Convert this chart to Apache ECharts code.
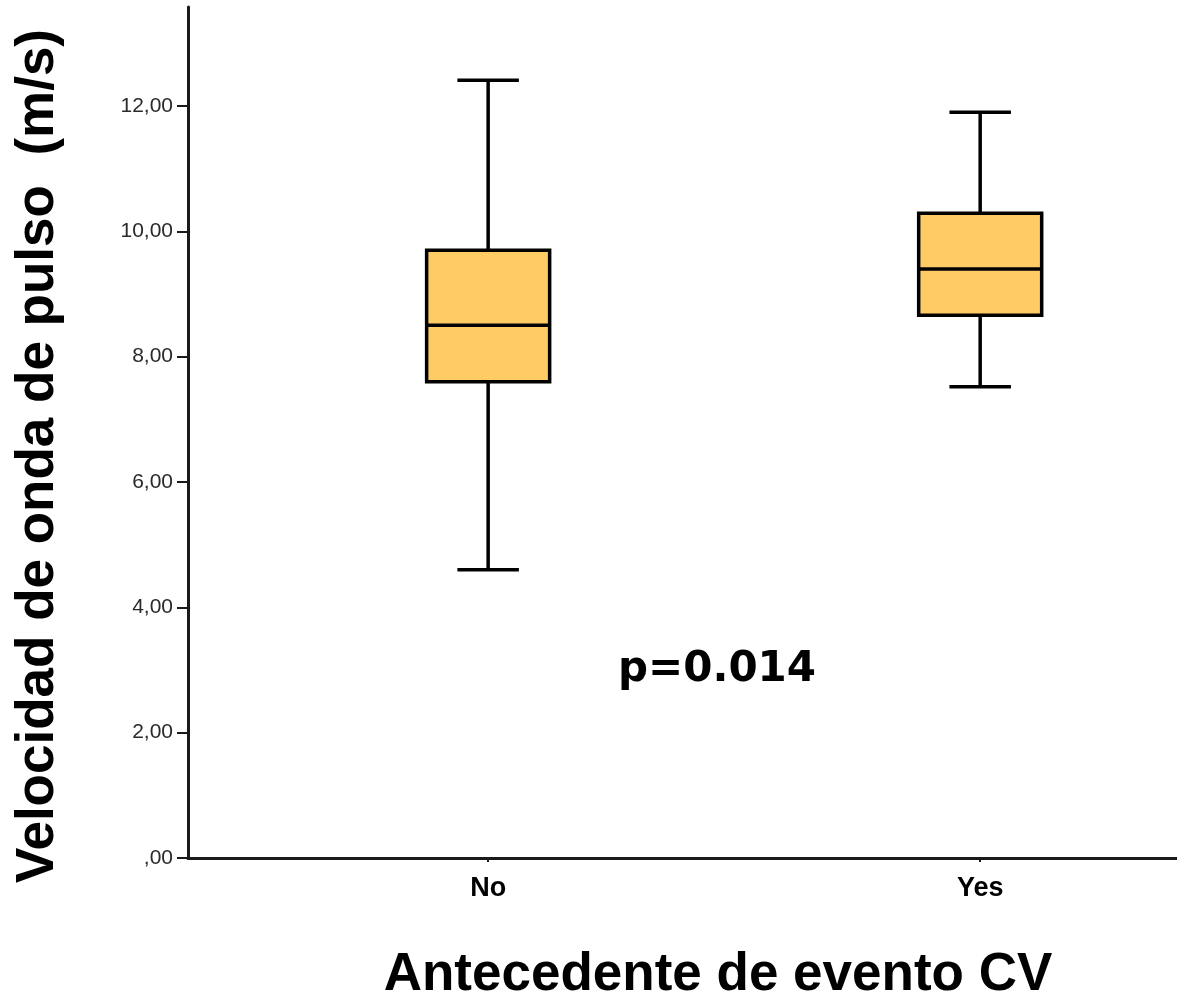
<!DOCTYPE html>
<html>
<head>
<meta charset="utf-8">
<script src="https://cdn.jsdelivr.net/npm/echarts@6/dist/echarts.min.js"></script>
<style>
html,body{margin:0;padding:0;background:#fff;}
#chart{width:1177px;height:996px;}
</style>
</head>
<body>
<div id="chart"></div>
<script>
const categories = ['No', 'Yes'];
const minVals = [4.60, 7.52];
const q1Vals = [7.60, 8.66];
const medianVals = [8.50, 9.40];
const q3Vals = [9.70, 10.29];
const maxVals = [12.41, 11.90];
const yTicks = [0, 2, 4, 6, 8, 10, 12];
const xTitle = 'Antecedente de evento CV';
const yTitle = 'Velocidad de onda de pulso  (m/s)';
const pText = 'p=0.014';

const BOX_W = 0.25;
const CAP_W = 0.125;

const seriesData = categories.map((c, i) => [i, minVals[i], q1Vals[i], medianVals[i], q3Vals[i], maxVals[i]]);

const chart = echarts.init(document.getElementById('chart'), null, {renderer: 'canvas'});

const option = {
  backgroundColor: '#ffffff',
  animation: false,
  grid: {left: 188, top: 7, right: 0, bottom: 138, containLabel: false},
  xAxis: {
    type: 'value',
    min: -0.61,
    max: 1.40,
    splitLine: {show: false},
    axisLine: {show: true, onZero: false, lineStyle: {color: '#1a1a1a', width: 3}},
    axisTick: {show: true, customValues: [0, 1], length: 4, lineStyle: {color: '#1a1a1a', width: 2}},
    axisLabel: {
      customValues: [0, 1],
      formatter: v => categories[Math.round(v)],
      fontFamily: 'Liberation Sans, Arial, sans-serif',
      fontWeight: 'bold',
      fontSize: 27,
      color: '#000',
      margin: 17
    }
  },
  yAxis: {
    type: 'value',
    min: 0,
    max: 13.58,
    splitLine: {show: false},
    axisLine: {show: true, onZero: false, lineStyle: {color: '#1a1a1a', width: 3}},
    axisTick: {show: true, customValues: yTicks, length: 11, lineStyle: {color: '#1a1a1a', width: 2}},
    axisLabel: {
      customValues: yTicks,
      formatter: v => (v === 0 ? ',00' : v.toFixed(2).replace('.', ',')),
      fontFamily: 'Liberation Sans, Arial, sans-serif',
      fontSize: 21,
      color: '#2a2a2a',
      margin: 15
    }
  },
  series: [{
    type: 'custom',
    data: seriesData,
    encode: {x: 0, y: [1, 2, 3, 4, 5]},
    renderItem: function (params, api) {
      const x = api.value(0);
      const pMin = api.coord([x, api.value(1)]);
      const pQ1 = api.coord([x, api.value(2)]);
      const pMed = api.coord([x, api.value(3)]);
      const pQ3 = api.coord([x, api.value(4)]);
      const pMax = api.coord([x, api.value(5)]);
      const bw = api.size([BOX_W, 0])[0];
      const cw = api.size([CAP_W, 0])[0];
      const cx = pMed[0];
      const ls = {stroke: '#000', lineWidth: 3.5};
      return {
        type: 'group',
        children: [
          {type: 'line', shape: {x1: cx, y1: pMax[1], x2: cx, y2: pQ3[1]}, style: ls},
          {type: 'line', shape: {x1: cx, y1: pQ1[1], x2: cx, y2: pMin[1]}, style: ls},
          {type: 'rect', shape: {x: cx - bw / 2, y: pQ3[1], width: bw, height: pQ1[1] - pQ3[1]},
            style: {fill: '#FECB65', stroke: '#000', lineWidth: 3.5}},
          {type: 'line', shape: {x1: cx - bw / 2, y1: pMed[1], x2: cx + bw / 2, y2: pMed[1]}, style: ls},
          {type: 'line', shape: {x1: cx - cw / 2, y1: pMax[1], x2: cx + cw / 2, y2: pMax[1]}, style: ls},
          {type: 'line', shape: {x1: cx - cw / 2, y1: pMin[1], x2: cx + cw / 2, y2: pMin[1]}, style: ls}
        ]
      };
    }
  }],
  graphic: [
    {
      type: 'text',
      x: 38, y: 456,
      rotation: Math.PI / 2,
      style: {
        text: yTitle,
        fontFamily: 'Liberation Sans, Arial, sans-serif',
        fontWeight: 'bold',
        fontSize: 53,
        fill: '#000',
        align: 'center',
        verticalAlign: 'middle'
      }
    },
    {
      type: 'text',
      x: 718, y: 975,
      style: {
        text: xTitle,
        fontFamily: 'Liberation Sans, Arial, sans-serif',
        fontWeight: 'bold',
        fontSize: 53,
        fill: '#000',
        align: 'center',
        verticalAlign: 'middle'
      }
    },
    {
      type: 'text',
      x: 717, y: 670,
      style: {
        text: pText,
        fontFamily: 'DejaVu Sans, sans-serif',
        fontWeight: 'bold',
        fontSize: 42,
        fill: '#000',
        align: 'center',
        verticalAlign: 'middle'
      }
    }
  ]
};
chart.setOption(option);
</script>
</body>
</html>
